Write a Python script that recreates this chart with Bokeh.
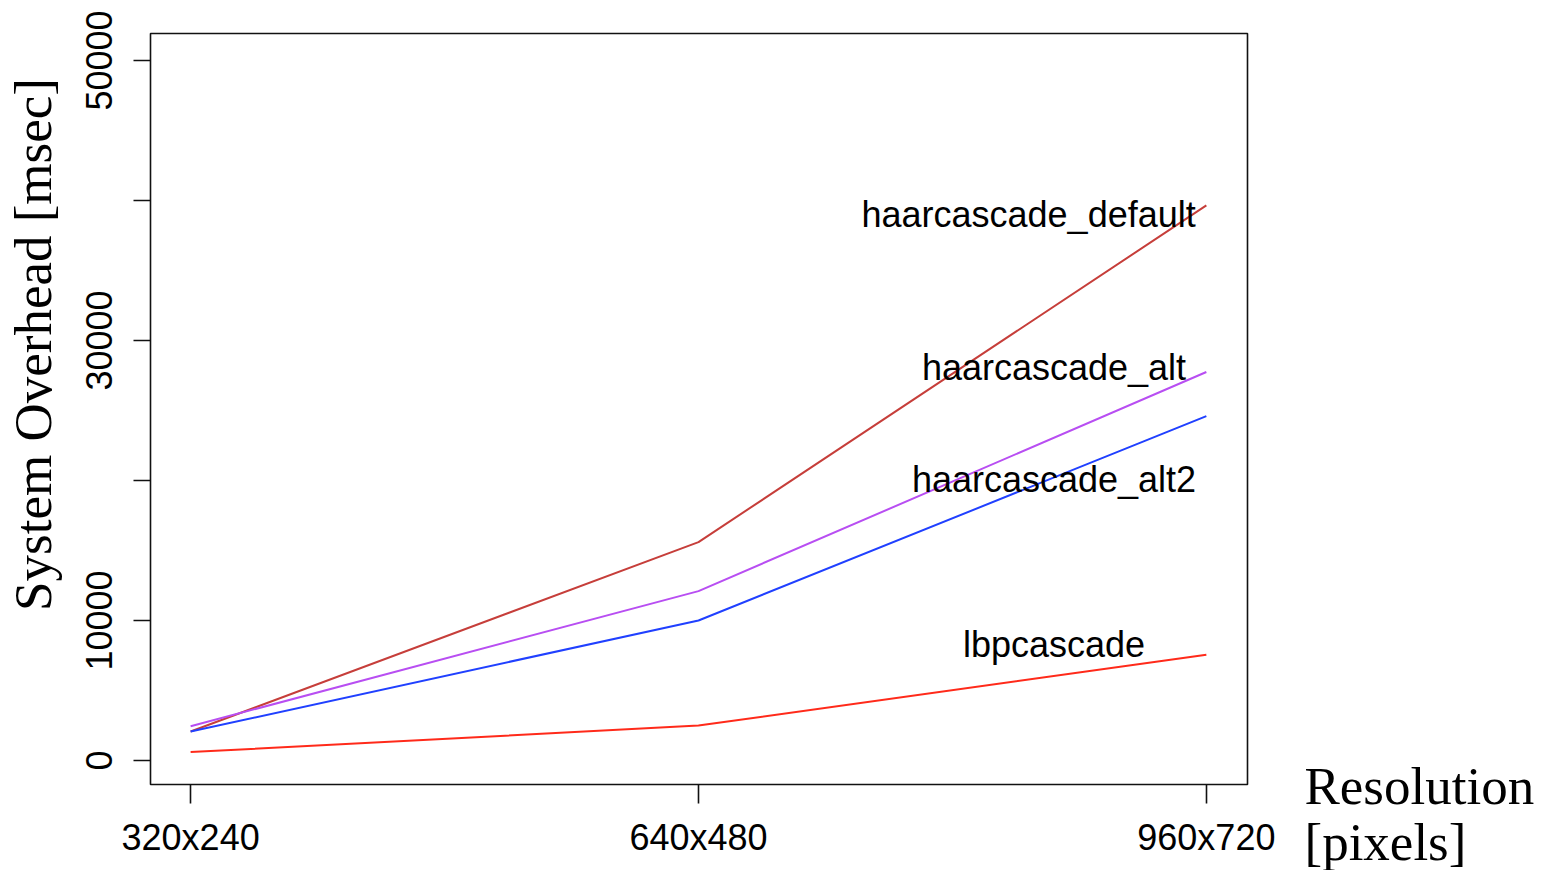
import math
from bokeh.plotting import figure
from bokeh.models import Range1d, FixedTicker
from bokeh.layouts import row
from bokeh.core.properties import value
from bokeh.embed import file_html
from bokeh.resources import INLINE

# ---- data ----
resolutions = ["320x240", "640x480", "960x720"]
series_names = ["haarcascade_default", "haarcascade_alt", "haarcascade_alt2", "lbpcascade"]
haar_default = [2070, 15600, 39650]
haar_alt = [2450, 12100, 27750]
haar_alt2 = [2070, 10000, 24600]
lbp = [600, 2500, 7550]
y_ticks = [0, 10000, 20000, 30000, 40000, 50000]
y_tick_labels = ["0", "10000", "", "30000", "", "50000"]
y_title = "System Overhead [msec]"
x_title = ["Resolution", "[pixels]"]

colors = ["#C63E3A", "#B84EF2", "#2040FF", "#FF2A1A"]
series = [haar_default, haar_alt, haar_alt2, lbp]
# label placement (x in category index units, y = text anchor)
label_x = [2.65, 2.70, 2.70, 2.70]
label_y = [39000, 28050, 20050, 8300]

xs = list(range(1, len(resolutions) + 1))

H = 870
LEFT_W = 70
MAIN_W = 1220
RIGHT_W = 258


def blank(width):
    f = figure(width=width, height=H, output_backend="svg", toolbar_location=None,
               x_range=Range1d(0, width), y_range=Range1d(0, H),
               x_axis_type=None, y_axis_type=None, min_border=0, frame_align=False)
    f.outline_line_color = None
    f.background_fill_color = "white"
    f.border_fill_color = "white"
    f.xgrid.visible = False
    f.ygrid.visible = False
    return f


# ---- main plot ----
p = figure(width=MAIN_W, height=H, output_backend="svg", toolbar_location=None,
           x_range=Range1d(0.921, 3.081), y_range=Range1d(-1714, 51929),
           min_border_left=150 - LEFT_W, min_border_right=43, min_border_top=33, min_border_bottom=86,
           frame_align=False)
p.background_fill_color = "white"
p.border_fill_color = "white"
p.outline_line_color = "#111111"
p.outline_line_width = 1.6
p.xgrid.visible = False
p.ygrid.visible = False

for ys, c in zip(series, colors):
    p.line(xs, ys, line_color=c, line_width=2)

xa = p.xaxis[0]
xa.ticker = FixedTicker(ticks=xs)
xa.major_label_overrides = {x: r for x, r in zip(xs, resolutions)}
xa.minor_tick_line_color = None
xa.axis_line_color = None
xa.major_tick_in = 0
xa.major_tick_out = 19
xa.major_tick_line_width = 1.6
xa.major_tick_line_color = "#111111"
xa.major_label_text_font = "Liberation Sans"
xa.major_label_text_font_size = "36px"
xa.major_label_text_color = "black"
xa.major_label_standoff = 13

ya = p.yaxis[0]
ya.ticker = FixedTicker(ticks=y_ticks)
ya.major_label_overrides = {t: l for t, l in zip(y_ticks, y_tick_labels)}
ya.minor_tick_line_color = None
ya.axis_line_color = None
ya.major_tick_in = 0
ya.major_tick_out = 17
ya.major_tick_line_width = 1.6
ya.major_tick_line_color = "#111111"
ya.major_label_orientation = "parallel"
ya.major_label_text_font = "Liberation Sans"
ya.major_label_text_font_size = "36px"
ya.major_label_text_color = "black"
ya.major_label_standoff = 21

p.text(x=label_x, y=label_y, text=series_names, text_align="center", text_baseline="alphabetic",
       text_font=value("Liberation Sans"), text_font_size=value("36px"), text_color="black")

# ---- y-axis title panel ----
left = blank(LEFT_W)
left.text(x=[32], y=[H - 344], text=[y_title], angle=math.pi / 2,
          text_align="center", text_baseline="alphabetic",
          text_font=value("Liberation Serif"), text_font_size=value("53px"), text_color="black")

# ---- x-axis title panel ----
right = blank(RIGHT_W)
right.text(x=[14, 14], y=[H - 785, H - 841], text=x_title,
           text_align="left", text_baseline="alphabetic",
           text_font=value("Liberation Serif"), text_font_size=value("53px"), text_color="black")

layout = row(left, p, right, spacing=0)
open("out.html", "w").write(file_html(layout, INLINE))
